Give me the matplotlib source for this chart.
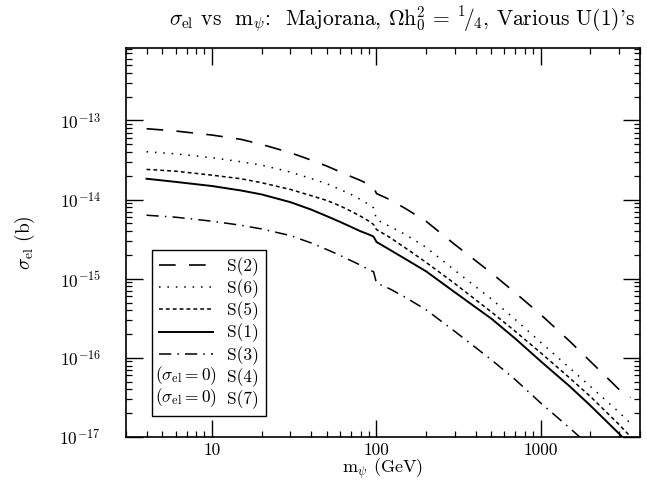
import matplotlib
matplotlib.use('Agg')
import matplotlib.pyplot as plt
from matplotlib.lines import Line2D
from matplotlib.text import Text
from matplotlib.legend_handler import HandlerBase
from matplotlib.ticker import FixedLocator, FixedFormatter, LogLocator, NullFormatter

plt.rcParams['font.family'] = 'cmr10'
plt.rcParams['mathtext.fontset'] = 'cm'
plt.rcParams['axes.formatter.use_mathtext'] = True

# Data: Majorana mass (GeV) and elastic cross section (barn)
mass = [4, 6, 10, 15, 20, 30, 40, 50, 60, 70, 80, 90, 96, 100, 120, 150,
        200, 300, 500, 700, 1000, 1500, 2000, 3000, 3500]

s2 = [7.84e-14, 7.33e-14, 6.52e-14, 5.75e-14, 4.97e-14, 3.90e-14, 3.15e-14,
      2.64e-14, 2.24e-14, 1.95e-14, 1.74e-14, 1.55e-14, 1.43e-14, 1.19e-14,
      1.00e-14, 7.69e-15, 5.32e-15, 2.69e-15, 1.18e-15, 6.59e-16, 3.50e-16,
      1.61e-16, 8.99e-17, 3.94e-17, 3.15e-17]
s6 = [4.01e-14, 3.78e-14, 3.37e-14, 3.00e-14, 2.72e-14, 2.22e-14, 1.84e-14,
      1.58e-14, 1.34e-14, 1.16e-14, 1.00e-14, 8.64e-15, 7.84e-15, 5.58e-15,
      4.60e-15, 3.61e-15, 2.49e-15, 1.27e-15, 5.53e-16, 3.03e-16, 1.56e-16,
      7.40e-17, 4.34e-17, 2.03e-17, 1.49e-17]
s5 = [2.40e-14, 2.28e-14, 2.03e-14, 1.83e-14, 1.63e-14, 1.34e-14, 1.12e-14,
      9.71e-15, 8.32e-15, 7.12e-15, 6.15e-15, 5.32e-15, 4.83e-15, 4.17e-15,
      3.34e-15, 2.44e-15, 1.61e-15, 8.64e-16, 3.79e-16, 2.15e-16, 1.15e-16,
      5.53e-17, 3.24e-17, 1.42e-17, 1.01e-17]
s1 = [1.83e-14, 1.67e-14, 1.48e-14, 1.30e-14, 1.16e-14, 9.25e-15, 7.47e-15,
      6.15e-15, 5.22e-15, 4.51e-15, 3.97e-15, 3.61e-15, 3.40e-15, 2.91e-15,
      2.33e-15, 1.77e-15, 1.24e-15, 6.71e-16, 3.12e-16, 1.74e-16, 8.99e-17,
      4.34e-17, 2.49e-17, 1.09e-17, 7.77e-18]
s3 = [6.33e-15, 5.98e-15, 5.32e-15, 4.73e-15, 4.25e-15, 3.50e-15, 2.83e-15,
      2.33e-15, 1.97e-15, 1.69e-15, 1.48e-15, 1.30e-15, 1.22e-15, 8.81e-16,
      7.47e-16, 5.80e-16, 4.05e-16, 2.15e-16, 9.43e-17, 5.27e-17, 2.67e-17,
      1.29e-17, 7.54e-18]

xticks = [10, 100, 1000]
xticklabels = ['10', '100', '1000']
yticks = [1e-17, 1e-16, 1e-15, 1e-14, 1e-13]
yticklabels = [r'$10^{-17}$', r'$10^{-16}$', r'$10^{-15}$', r'$10^{-14}$', r'$10^{-13}$']


class HandlerNote(HandlerBase):
    # draws a bit of text where the line sample would go
    def __init__(self, note):
        super().__init__()
        self.note = note

    def create_artists(self, legend, orig_handle, xdescent, ydescent,
                       width, height, fontsize, trans):
        t = Text(-xdescent + width / 2, -ydescent + height / 2, self.note,
                 ha='center', va='center', fontsize=fontsize,
                 transform=trans)
        return [t]


fig = plt.figure(figsize=(6.47, 4.84), dpi=100)
ax = fig.add_axes([126 / 647, 1 - 437 / 484, 514 / 647, 389 / 484])

ax.plot(mass, s2, color='black', lw=1.2, dashes=(10, 8), label='S(2)')
ax.plot(mass, s6, color='black', lw=1.1, dashes=(1, 4.5), label='S(6)')
ax.plot(mass, s5, color='black', lw=1.1, dashes=(2.5, 2), label='S(5)')
ax.plot(mass, s1, color='black', lw=1.4, label='S(1)')
ax.plot(mass[:len(s3)], s3, color='black', lw=1.1, dashes=(8, 4, 1, 4), label='S(3)')

ax.set_xscale('log')
ax.set_yscale('log')
ax.set_xlim(3, 4000)
ax.set_ylim(1e-17, 8.2e-13)

ax.xaxis.set_major_locator(FixedLocator(xticks))
ax.xaxis.set_major_formatter(FixedFormatter(xticklabels))
ax.xaxis.set_minor_locator(LogLocator(base=10, subs=range(2, 10)))
ax.xaxis.set_minor_formatter(NullFormatter())
ax.yaxis.set_major_locator(FixedLocator(yticks))
ax.yaxis.set_major_formatter(FixedFormatter(yticklabels))
ax.yaxis.set_minor_locator(LogLocator(base=10, subs=range(2, 10), numticks=20))
ax.yaxis.set_minor_formatter(NullFormatter())

ax.tick_params(which='both', direction='in', top=True, right=True, color='black')
ax.tick_params(which='major', length=12, width=1.0, labelsize=12.5)
ax.tick_params(which='minor', length=4.5, width=0.9)
ax.tick_params(axis='y', which='major', pad=18)
ax.tick_params(axis='x', which='major', pad=4)
for sp in ax.spines.values():
    sp.set_linewidth(1.2)

ax.set_xlabel(r'm$_\psi$ (GeV)', fontsize=13, labelpad=-1)
ax.set_ylabel(r'$\sigma_{\rm el}$ (b)', fontsize=14, labelpad=16)

fig.text(402 / 647, 1 - 20 / 484,
         r"$\sigma_{\rm el}$ vs  m$_\psi$:  Majorana, $\Omega$h$_0^2$ = $^1\!/_4$, Various U(1)'s",
         ha='center', va='center', fontsize=15.5)

h4 = Line2D([], [], linestyle='none')
h7 = Line2D([], [], linestyle='none')
handles, labels = ax.get_legend_handles_labels()
handles += [h4, h7]
labels += ['S(4)', 'S(7)']
note = r'$(\sigma_{\rm el}=0)$'
leg = ax.legend(handles, labels, loc='lower left',
                bbox_to_anchor=(26 / 514, 21 / 389), borderaxespad=0,
                fontsize=12.5, handlelength=3.1, handletextpad=0.8,
                borderpad=0.4, labelspacing=0.2, fancybox=False,
                framealpha=1, edgecolor='black',
                handler_map={h4: HandlerNote(note), h7: HandlerNote(note)})
leg.get_frame().set_linewidth(1.0)

fig.savefig('out.png', dpi=100)
